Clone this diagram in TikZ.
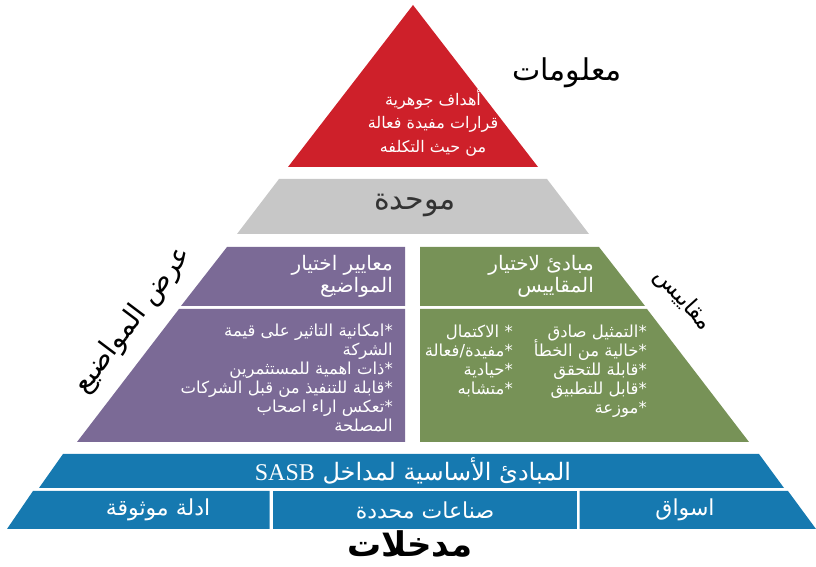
\documentclass[tikz,border=0pt]{standalone}
\usepackage{fontspec}
\newfontfamily\arabicfont[Script=Arabic]{DejaVu Sans}
\newfontfamily\latinfont{Liberation Serif}
\TeXXeTstate=1
\lineskiplimit=-20pt
\definecolor{pyrred}{RGB}{206,32,42}
\definecolor{pyrgray}{RGB}{199,199,199}
\definecolor{pyrpurple}{RGB}{123,106,150}
\definecolor{pyrgreen}{RGB}{119,146,87}
\definecolor{pyrblue}{RGB}{22,121,176}
\tikzset{
  title/.style= {font=\arabicfont\fontsize{30}{34}\selectfont, inner sep=0},
  side/.style= {font=\arabicfont\fontsize{28}{32}\selectfont, inner sep=0},
  body/.style= {font=\arabicfont\fontsize{16.5}{19}\selectfont, text=white, align=right, inner sep=0},
  band/.style= {font=\arabicfont\fontsize{22}{26}\selectfont, text=white, inner sep=0},
}

\begin{document}
\begin{tikzpicture}[x=1pt, y=1pt]
  \useasboundingbox (0,0) rectangle (816,567);
  % tiers
  \fill [pyrred] (413,562) -- (538,400) -- (288,400) -- cycle;
  \fill [pyrgray] (279,388) -- (547,388) -- (589,333) -- (237,333) -- cycle;
  \fill [pyrpurple] (227,320) -- (405,320) -- (405,261) -- (181,261) -- cycle;
  \fill [pyrpurple] (179,258) -- (405,258) -- (405,125) -- (77,125) -- cycle;
  \fill [pyrgreen] (420,320) -- (599,320) -- (645,261) -- (420,261) -- cycle;
  \fill [pyrgreen] (420,258) -- (647,258) -- (749,125) -- (420,125) -- cycle;
  \fill [pyrblue] (63,113) -- (759,113) -- (784,79) -- (39,79) -- cycle;
  \fill [pyrblue] (33,76) -- (269.5,76) -- (269.5,38) -- (7,38) -- cycle;
  \fill [pyrblue] (272.5,76) -- (576.5,76) -- (576.5,38) -- (272.5,38) -- cycle;
  \fill [pyrblue] (579.5,76) -- (788,76) -- (816,38) -- (579.5,38) -- cycle;

  % labels round the pyramid
  \node [title] (info) at (567,494) {\beginR معلومات\endR};
  \node [side, rotate=53] (topics) at (133,247) {\beginR عرض المواضيع\endR};
  \node [side, font=\arabicfont\fontsize{23}{26}\selectfont, rotate=-48] (measures) at (683,267) {\beginR مقاييس\endR};
  \node [title, font=\arabicfont\bfseries\fontsize{34}{38}\selectfont] (inputs) at (410,23) {\beginR مدخلات\endR};

  % texts in the tiers
  \node [body, font=\arabicfont\fontsize{16}{23.5}\selectfont, align=center, anchor=north] (goals) at (433,478)
    {\beginR أهداف جوهرية\endR\\ \beginR قرارات مفيدة  فعالة\endR\\ \beginR من حيث التكلفه\endR};
  \node [band, text=black!80, font=\arabicfont\fontsize{30}{34}\selectfont] (unified) at (415,362) {\beginR موحدة\endR};
  \node [body, font=\arabicfont\fontsize{20}{22}\selectfont, anchor=north east] (topichead) at (393,312)
    {\beginR معايير اختيار\endR\\ \beginR المواضيع\endR};
  \node [body, font=\arabicfont\fontsize{20}{22}\selectfont, anchor=north east] (measurehead) at (594,312)
    {\beginR مبادئ لاختيار\endR\\ \beginR المقاييس\endR};
  \node [body, anchor=north east] (topiclist) at (393,243)
    {\beginR *امكانية التاثير على قيمة\endR\\ \beginR الشركة\endR\\
     \beginR *ذات اهمية للمستثمرين\endR\\ \beginR *قابلة للتنفيذ من قبل الشركات\endR\\
     \beginR *تعكس اراء اصحاب\endR\\ \beginR المصلحة\endR};
  \node [body, anchor=north east] (measurelistA) at (647,242)
    {\beginR *التمثيل صادق\endR\\ \beginR *خالية من الخطأ\endR\\ \beginR *قابلة للتحقق\endR\\
     \beginR *قابل للتطبيق\endR\\ \beginR *موزعة\endR};
  \node [body, anchor=north east] (measurelistB) at (513,242)
    {\beginR * الاكتمال\endR\\ \beginR *مفيدة/فعالة\endR\\ \beginR *حيادية\endR\\ \beginR *متشابه\endR};
  \node [band, font=\arabicfont\fontsize{24}{28}\selectfont] (principles) at (413,96)
    {\beginR المبادئ الأساسية لمداخل \beginL{\latinfont SASB}\endL\endR};
  \node [band] (evidence) at (158,57) {\beginR ادلة موثوقة\endR};
  \node [band] (industries) at (425,57) {\beginR صناعات محددة\endR};
  \node [band] (markets) at (685,57) {\beginR اسواق\endR};
\end{tikzpicture}
\end{document}
